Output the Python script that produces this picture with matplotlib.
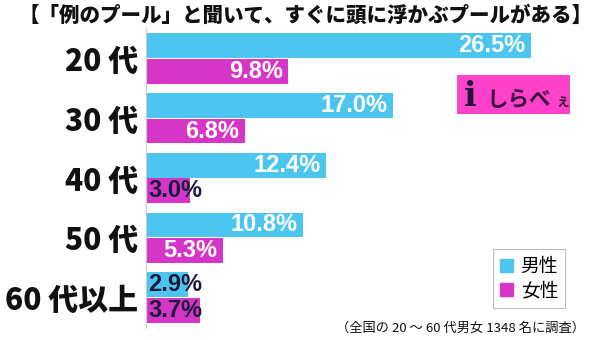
import matplotlib
matplotlib.use("Agg")
import matplotlib.pyplot as plt
from matplotlib.patches import Patch, Rectangle

plt.rcParams['font.family'] = ['Noto Sans CJK JP', 'DejaVu Sans']

title = "【「例のプール」と聞いて、すぐに頭に浮かぶプールがある】"
categories = ["20 代", "30 代", "40 代", "50 代", "60 代以上"]
male = [26.5, 17.0, 12.4, 10.8, 2.9]
female = [9.8, 6.8, 3.0, 5.3, 3.7]
series_names = ["男性", "女性"]
footnote = "（全国の 20 ～ 60 代男女 1348 名に調査）"

BLUE = "#4cc6f1"
PINK = "#d636c8"
DARK = "#1c1a3c"

W, H = 600, 340
fig = plt.figure(figsize=(W / 100, H / 100), dpi=100)

# axes placed in pixel terms
left_px, right_px, top_px, bottom_px = 146, 590, 28, 328
ax = fig.add_axes([left_px / W, 1 - bottom_px / H,
                   (right_px - left_px) / W, (bottom_px - top_px) / H])
px_per_unit = 14.53
ax.set_xlim(0, (right_px - left_px) / px_per_unit)
ax.set_ylim(4.51, -0.51)

bar_h = 0.415
off = 0.215
ys = list(range(len(categories)))
mb = ax.barh([y - off for y in ys], male, height=bar_h, color=BLUE, linewidth=0)
fb = ax.barh([y + off for y in ys], female, height=bar_h, color=PINK, linewidth=0)

val_font = dict(family=['Liberation Sans', 'DejaVu Sans'], fontsize=17,
                fontweight='bold', va='center')
for bars, vals in ((mb, male), (fb, female)):
    for rect, v in zip(bars, vals):
        yc = rect.get_y() + rect.get_height() / 2
        txt = f"{v:.1f}%"
        if v >= 5:
            ax.annotate(txt, (v, yc), xytext=(-4, 0), textcoords='offset points',
                        ha='right', color='white', **val_font)
        else:
            ax.annotate(txt, (0, yc), xytext=(1.5, 0), textcoords='offset points',
                        ha='left', color=DARK, **val_font)

ax.set_yticks(ys)
ax.set_yticklabels(categories, fontsize=21.5, fontweight=900, color='#111111')
ax.tick_params(axis='y', length=0, pad=6)
ax.set_xticks([])
for s in ("top", "right", "bottom"):
    ax.spines[s].set_visible(False)
ax.spines['left'].set_color('#cccccc')
ax.spines['left'].set_linewidth(0.8)

fig.text(306 / W, 1 - 15 / H, title, ha='center', va='center',
         fontsize=14.8, fontweight=900, color='#111111')

leg = fig.legend(handles=[Patch(color=BLUE, label=series_names[0]),
                          Patch(color=PINK, label=series_names[1])],
                 loc='center', bbox_to_anchor=(529 / W, 1 - 278.5 / H),
                 fontsize=13.5, handlelength=0.7, handleheight=0.7,
                 handletextpad=0.4, labelspacing=0.2, borderpad=0.35,
                 fancybox=False, framealpha=1, edgecolor='#bbbbbb')
leg.get_frame().set_linewidth(0.8)

fig.text(585 / W, 1 - 328 / H, footnote, ha='right', va='center',
         fontsize=9.5, color='#111111')

# brand badge
badge = Rectangle((457 / W, 1 - 114 / H), 113 / W, 39 / H,
                  transform=fig.transFigure, facecolor='#ff42c9',
                  edgecolor='none')
fig.add_artist(badge)
fig.text(470 / W, 1 - 96 / H, "i", ha='center', va='center', fontsize=24,
         fontweight='bold', color=DARK, family=['DejaVu Serif'])
fig.text(486 / W, 1 - 99 / H, "しらべ", ha='left', va='center', fontsize=15.5,
         fontweight='bold', color='#3a1040')
fig.text(555 / W, 1 - 101 / H, "ぇ", ha='left', va='center', fontsize=10.5,
         fontweight='bold', color='#3a1040')

fig.savefig("out.png", dpi=100, facecolor='white')
